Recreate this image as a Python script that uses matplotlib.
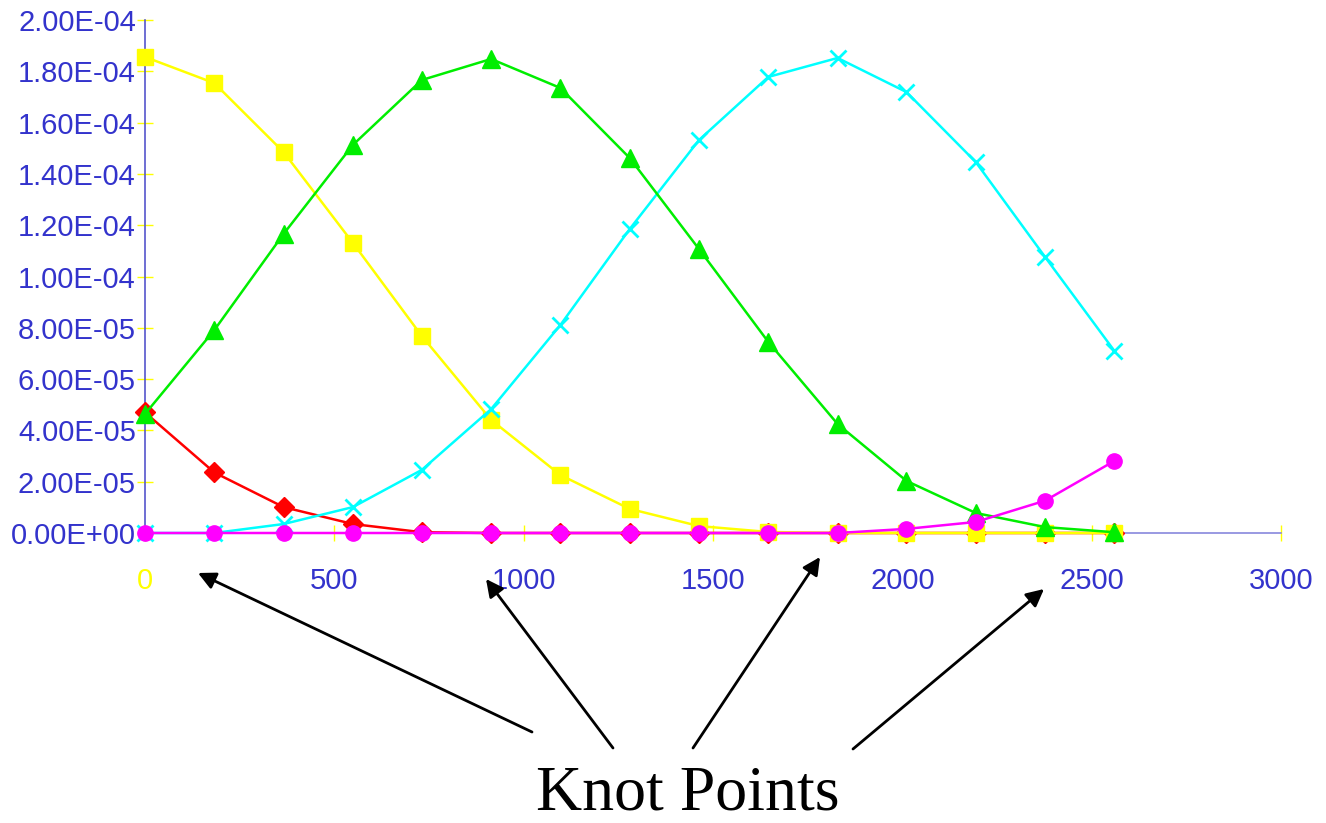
import matplotlib
matplotlib.use("Agg")
import matplotlib.pyplot as plt
from matplotlib.ticker import FuncFormatter

x = [0, 183, 366, 549, 731, 914, 1097, 1280, 1463, 1646, 1829, 2011, 2194, 2377, 2560]
red = [4.70e-5, 2.36e-5, 1.01e-5, 3.5e-6, 3e-7, 0, 0, 0, 0, 0, 0, 0, 0, 0, 0]
yellow = [1.856e-4, 1.754e-4, 1.485e-4, 1.131e-4, 7.68e-5, 4.41e-5, 2.26e-5, 9.4e-6,
          2.7e-6, 4e-7, 0, 0, 0, 0, 0]
green = [4.64e-5, 7.91e-5, 1.166e-4, 1.513e-4, 1.766e-4, 1.848e-4, 1.735e-4, 1.462e-4,
         1.107e-4, 7.45e-5, 4.25e-5, 2.03e-5, 7.8e-6, 2.3e-6, 3e-7]
cyan = [0, 0, 3.5e-6, 1.01e-5, 2.46e-5, 4.83e-5, 8.11e-5, 1.185e-4, 1.532e-4, 1.778e-4,
        1.852e-4, 1.719e-4, 1.446e-4, 1.076e-4, 7.1e-5]
magenta = [0, 0, 0, 0, 0, 0, 0, 0, 0, 0, 0, 1.6e-6, 4.3e-6, 1.26e-5, 2.81e-5]

xticks = [0, 500, 1000, 1500, 2000, 2500, 3000]
yticks = [0, 2e-5, 4e-5, 6e-5, 8e-5, 1e-4, 1.2e-4, 1.4e-4, 1.6e-4, 1.8e-4, 2e-4]
annotation_text = "Knot Points"

W, H = 1326, 823
fig = plt.figure(figsize=(W / 100, H / 100), dpi=100)
ax = fig.add_axes([145 / W, 1 - 533 / H, (1281 - 145) / W, (533 - 20) / H])

lw = 1.8
ax.plot(x, red, color="#FF0000", marker="D", markersize=10, lw=lw, clip_on=False, zorder=3)
ax.plot(x, yellow, color="#FFFF00", marker="s", markersize=11, lw=lw, clip_on=False, zorder=4)
ax.plot(x, cyan, color="#00FFFF", marker="x", markersize=12, markeredgewidth=2, lw=lw,
        clip_on=False, zorder=5)
ax.plot(x, green, color="#00EE00", marker="^", markersize=13, lw=lw, clip_on=False, zorder=6)
ax.plot(x, magenta, color="#FF00FF", marker="o", markersize=11, lw=lw, clip_on=False, zorder=7)

ax.set_xlim(0, 3000)
ax.set_ylim(0, 2e-4)
ax.set_xticks(xticks)
ax.set_yticks(yticks)
ax.yaxis.set_major_formatter(FuncFormatter(lambda v, p: "%.2E" % v))
ax.xaxis.set_major_formatter(FuncFormatter(lambda v, p: "%d" % v))

for s in ["top", "right"]:
    ax.spines[s].set_visible(False)
ax.spines["left"].set_color("#5555cc")
ax.spines["bottom"].set_color("#8888dd")
ax.spines["left"].set_linewidth(1.2)
ax.spines["bottom"].set_linewidth(1.2)

font = "Liberation Sans"
ax.tick_params(axis="both", direction="inout", length=11, width=1, color="#FFFF00",
               labelcolor="#3333CC", labelsize=21)
ax.tick_params(axis="y", pad=1)
ax.tick_params(axis="x", pad=19)
for lab in ax.get_xticklabels() + ax.get_yticklabels():
    lab.set_fontfamily(font)
ax.get_xticklabels()[0].set_color("#FFFF00")

fig.text(688 / W, 1 - 809 / H, annotation_text, family="Liberation Serif", fontsize=46,
         ha="center", va="baseline", color="black")

arrows = [((532, 732), (198, 573)), ((613, 748), (486, 579)),
          ((693, 748), (820, 557)), ((853, 749), (1044, 589))]
for (tx, ty), (hx, hy) in arrows:
    fig.add_artist(matplotlib.patches.FancyArrowPatch(
        (tx / W, 1 - ty / H), (hx / W, 1 - hy / H), transform=fig.transFigure,
        arrowstyle="-|>,head_length=7,head_width=3.5", mutation_scale=1.5,
        color="black", lw=2, shrinkA=0, shrinkB=0))

fig.savefig("out.png", dpi=100, facecolor="white")
